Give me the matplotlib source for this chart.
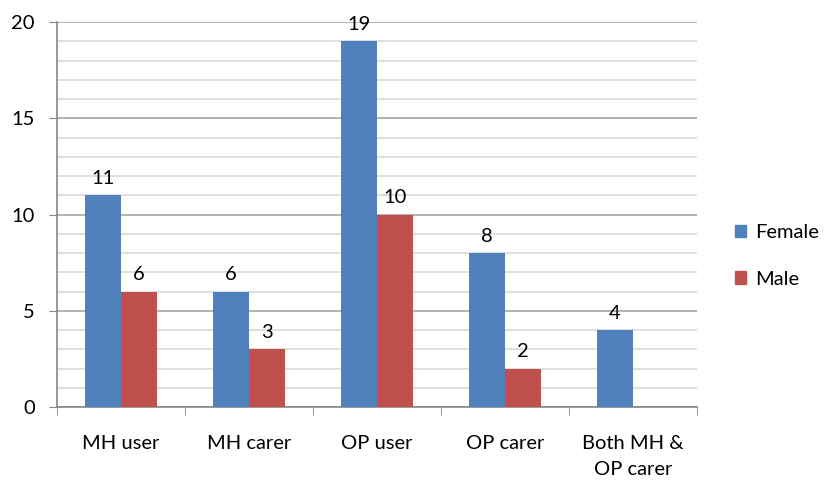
import numpy as np
from matplotlib import pyplot as plt
from matplotlib.ticker import MultipleLocator
from matplotlib.patches import Patch

# data
categories = ['MH user', 'MH carer', 'OP user', 'OP carer', 'Both MH &\nOP carer']
female = [11, 6, 19, 8, 4]
male = [6, 3, 10, 2, None]

blue = '#4F81BD'
red = '#C0504D'
fs = 14.5

plt.rcParams['font.family'] = ['Lato', 'DejaVu Sans']

fig = plt.figure(figsize=(8.24, 4.87), dpi=100)
ax = fig.add_axes([57/824, 1-407/487, 640/824, 385/487])

x = np.arange(len(categories))
w = 36/128

ax.bar(x - w/2, female, width=w, color=blue, zorder=3)
m_x = [xi + w/2 for xi, v in zip(x, male) if v is not None]
m_v = [v for v in male if v is not None]
ax.bar(m_x, m_v, width=w, color=red, zorder=3)

# data labels
for xi, v in zip(x, female):
    ax.annotate(str(v), (xi - w/2, v), xytext=(0, 6), textcoords='offset points',
                ha='center', va='bottom', fontsize=fs, color='black')
for xi, v in zip(m_x, m_v):
    ax.annotate(str(v), (xi, v), xytext=(0, 6), textcoords='offset points',
                ha='center', va='bottom', fontsize=fs, color='black')

ax.set_xlim(-0.5, len(categories) - 0.5)
ax.set_ylim(0, 20)

# gridlines
ax.yaxis.set_major_locator(MultipleLocator(5))
ax.yaxis.set_minor_locator(MultipleLocator(1))
ax.grid(axis='y', which='major', color='#A6A6A6', linewidth=1.2, zorder=0)
ax.grid(axis='y', which='minor', color='#D9D9D9', linewidth=1.2, zorder=0)

ax.set_xticks(x)
ax.set_xticklabels(categories, fontsize=fs, linespacing=1.65)
ax.set_xticks(np.arange(-0.5, len(categories)), minor=True)
ax.tick_params(axis='x', which='major', length=0, pad=20)
ax.tick_params(axis='x', which='minor', length=6, color='#868686', direction='out')
ax.tick_params(axis='y', which='major', length=6, color='#868686', labelsize=fs, pad=10)
ax.tick_params(axis='y', which='minor', length=0)

for side in ['top', 'right']:
    ax.spines[side].set_visible(False)
for side in ['left', 'bottom']:
    ax.spines[side].set_color('#868686')
    ax.spines[side].set_linewidth(1.2)

handles = [Patch(color=blue, label='Female'), Patch(color=red, label='Male')]
fig.legend(handles=handles, loc='center left', bbox_to_anchor=(735/824, 1-256/487),
           frameon=False, fontsize=fs, handlelength=0.55, handleheight=0.55,
           handletextpad=0.45, labelspacing=1.45, borderpad=0, borderaxespad=0)

fig.savefig('out.png', dpi=100)
